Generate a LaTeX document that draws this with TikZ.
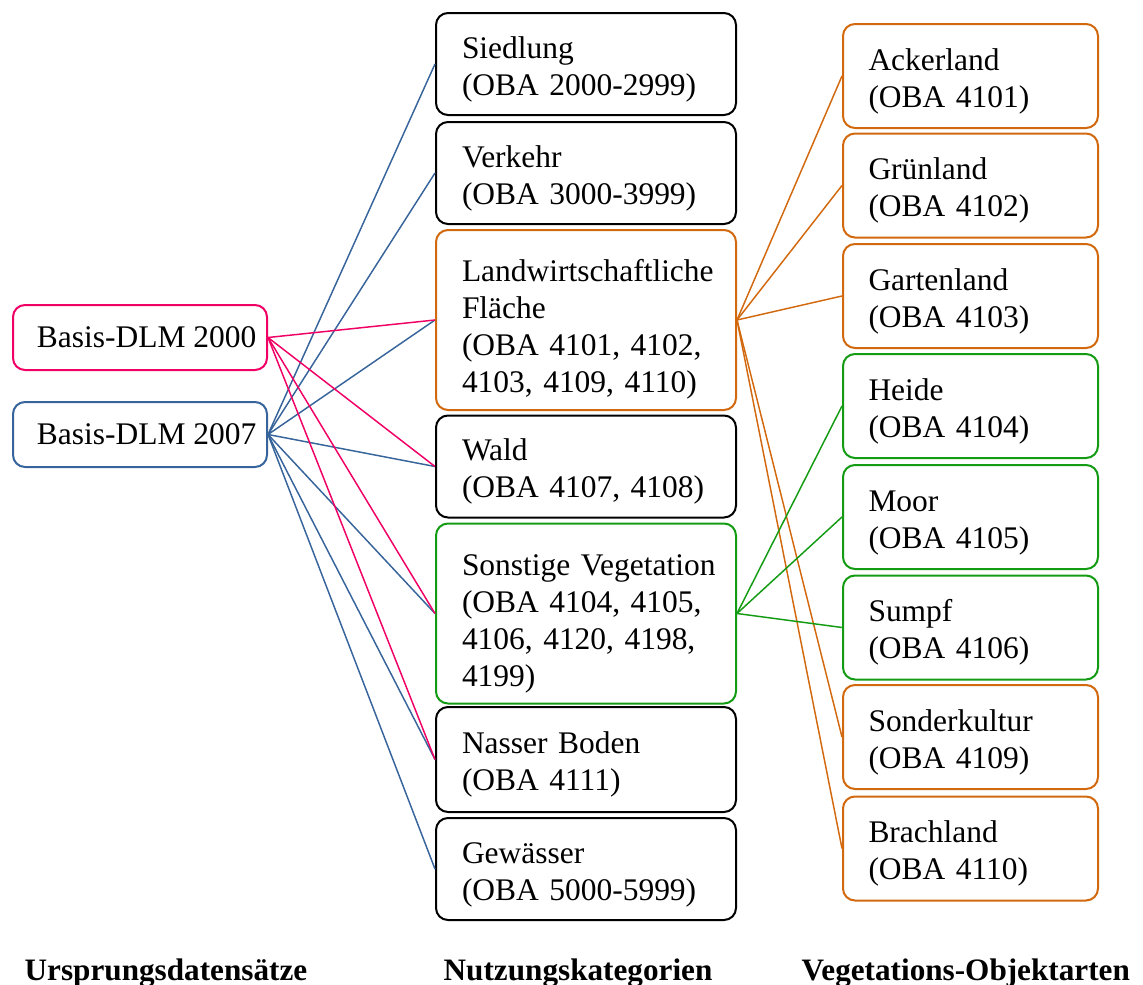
\documentclass[tikz,border=0pt]{standalone}
\usepackage{fontspec}
\setmainfont{Liberation Serif}
\definecolor{cpink}{RGB}{240,0,100}
\definecolor{cblue}{RGB}{55,100,155}
\definecolor{corange}{RGB}{210,105,15}
\definecolor{cgreen}{RGB}{20,155,20}
\newcommand{\upA}{\rule{0pt}{24.5pt}}
\newcommand{\upB}{\rule{0pt}{31pt}}
\hbadness=10000 \hfuzz=100pt
\begin{document}
\begin{tikzpicture}[x=0.75pt,y=-0.75pt,
  every node/.style={font=\fontsize{23.6}{27.75}\selectfont},
  box/.style={draw, line width=1.5pt, rounded corners=9pt, inner ysep=0pt, align=left},
  mid/.style={box, minimum width=225pt, text width=186pt, inner xsep=19.5pt, minimum height=76.5pt},
  midtall/.style={mid, minimum height=135pt},
  rgt/.style={box, minimum width=191.25pt, text width=153pt, inner xsep=19pt, minimum height=78pt},
  lft/.style={box, minimum width=190.5pt, minimum height=48.75pt, align=center, inner xsep=0pt},
  link/.style={line width=1.1pt},
  caption/.style={anchor=base west, font=\fontsize{23.4}{27.75}\selectfont\bfseries}
]
\useasboundingbox (0,0) rectangle (1143,985);

% left column
\node[lft, draw=cpink] (b2000) at (140,337.5) {\hspace*{10pt}Basis-DLM 2000};
\node[lft, draw=cblue] (b2007) at (140,434.5) {\hspace*{10pt}Basis-DLM 2007};

% middle column
\node[mid] (sied) at (586,64) {\upA Siedlung\\(OBA 2000-2999)};
\node[mid] (verk) at (586,173) {\upA Verkehr\\(OBA 3000-3999)};
\node[midtall, draw=corange] (landw) at (586,320) {\upB \mbox{Landwirtschaftliche}\\Fläche\\(OBA 4101, 4102,\\4103, 4109, 4110)};
\node[mid] (wald) at (586,466.5) {\upA Wald\\(OBA 4107, 4108)};
\node[midtall, draw=cgreen] (sonst) at (586,613.5) {\upB \mbox{Sonstige Vegetation}\\(OBA 4104, 4105,\\4106, 4120, 4198,\\4199)};
\node[mid, minimum height=78.75pt] (nass) at (586,759.5) {\upA Nasser Boden\\(OBA 4111)};
\node[mid] (gew) at (586,869) {\upA Gewässer\\(OBA 5000-5999)};

% right column
\node[rgt, draw=corange] (acker) at (970.5,76) {\upA Ackerland\\(OBA 4101)};
\node[rgt, draw=corange] (gruen) at (970.5,185.5) {\upA Grünland\\(OBA 4102)};
\node[rgt, draw=corange] (garten) at (970.5,296) {\upA Gartenland\\(OBA 4103)};
\node[rgt, draw=cgreen] (heide) at (970.5,406) {\upA Heide\\(OBA 4104)};
\node[rgt, draw=cgreen] (moor) at (970.5,517) {\upA Moor\\(OBA 4105)};
\node[rgt, draw=cgreen] (sumpf) at (970.5,627.5) {\upA Sumpf\\(OBA 4106)};
\node[rgt, draw=corange] (sonder) at (970.5,737) {\upA Sonderkultur\\(OBA 4109)};
\node[rgt, draw=corange] (brach) at (970.5,848.5) {\upA Brachland\\(OBA 4110)};

% connectors: Basis-DLM 2007
\foreach \t in {sied,verk,landw,wald,sonst,nass,gew}
  \draw[link, cblue] (b2007.east) -- (\t.west);
% connectors: Basis-DLM 2000
\foreach \t in {landw,wald,sonst,nass}
  \draw[link, cpink] (b2000.east) -- (\t.west);
% connectors: Landwirtschaftliche Fläche
\foreach \t in {acker,gruen,garten,sonder,brach}
  \draw[link, corange] (landw.east) -- (\t.west);
% connectors: Sonstige Vegetation
\foreach \t in {heide,moor,sumpf}
  \draw[link, cgreen] (sonst.east) -- (\t.west);

% captions
\node[caption] (c1) at (20,980) {Ursprungsdatensätze};
\node[caption] (c2) at (439,980) {Nutzungskategorien};
\node[caption] (c3) at (797,980) {Vegetations-Objektarten};
\end{tikzpicture}
\end{document}
